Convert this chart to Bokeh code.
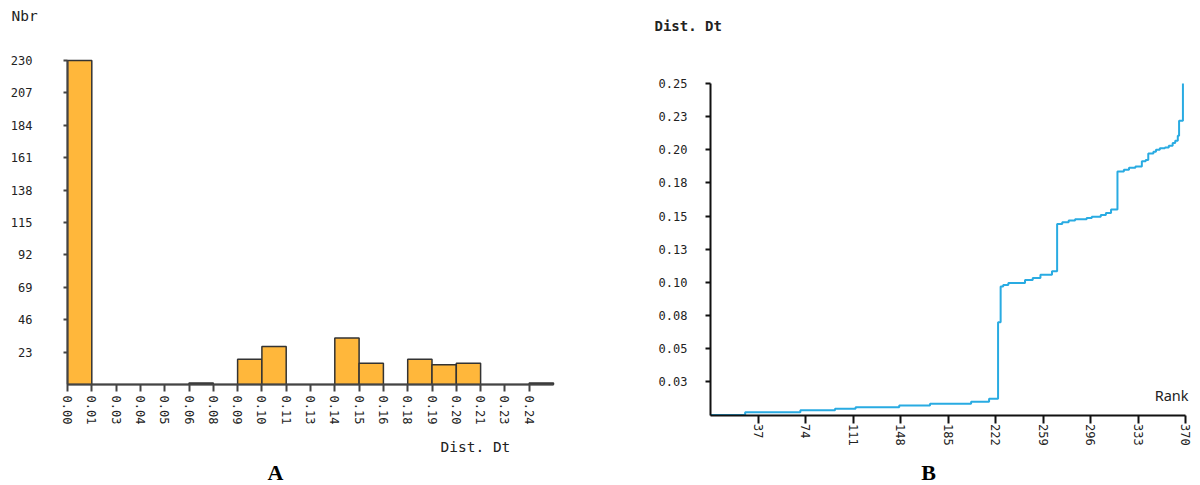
import math
from bokeh.plotting import figure
from bokeh.models import FixedTicker, Label, Range1d
from bokeh.layouts import row
from bokeh.embed import file_html
from bokeh.resources import INLINE

# ---------------- Data: chart A (histogram of Dist. Dt) ----------------
A_BIN_EDGES = [0.0, 0.0125, 0.025, 0.0375, 0.05, 0.0625, 0.075, 0.0875, 0.1,
               0.1125, 0.125, 0.1375, 0.15, 0.1625, 0.175, 0.1875, 0.2,
               0.2125, 0.225, 0.2375, 0.25]
A_COUNTS = [230, 0, 0, 0, 0, 1, 0, 18, 27, 0, 0, 33, 15, 0, 18, 14, 15, 0, 0, 1]
A_X_TICK_LABELS = ["0.00", "0.01", "0.03", "0.04", "0.05", "0.06", "0.08",
                   "0.09", "0.10", "0.11", "0.13", "0.14", "0.15", "0.16",
                   "0.18", "0.19", "0.20", "0.21", "0.23", "0.24"]
A_Y_TICKS = [23, 46, 69, 92, 115, 138, 161, 184, 207, 230]
A_Y_MAX = 230

# ---------------- Data: chart B (sorted Dist. Dt vs rank) ----------------
B_RANK = [0, 27, 70, 97, 113, 147, 171, 203, 217, 224, 226, 228, 232, 245,
          251, 257, 266, 270, 274, 279, 284, 293, 297, 304, 308, 312, 317,
          322, 326, 331, 336, 339, 341, 345, 347, 350, 354, 357, 360, 362,
          364, 365, 368]
B_DIST = [0.0, 0.0021, 0.0036, 0.0047, 0.0059, 0.0072, 0.0084, 0.0099,
          0.0122, 0.070, 0.097, 0.0981, 0.0996, 0.1019, 0.1034, 0.1057,
          0.1084, 0.1441, 0.1453, 0.1466, 0.1476, 0.1486, 0.1496, 0.1509,
          0.1524, 0.1549, 0.1837, 0.1850, 0.1865, 0.1875, 0.1913, 0.1923,
          0.1973, 0.1986, 0.2001, 0.2011, 0.2018, 0.2031, 0.2051, 0.2069,
          0.2106, 0.2219, 0.2500]
B_X_TICKS = [37, 74, 111, 148, 185, 222, 259, 296, 333, 370]
B_X_MAX = 370
B_Y_TICKS = [0.025, 0.05, 0.075, 0.1, 0.125, 0.15, 0.175, 0.2, 0.225, 0.25]
B_Y_TICK_LABELS = ["0.03", "0.05", "0.08", "0.10", "0.13", "0.15", "0.18",
                   "0.20", "0.23", "0.25"]
B_Y_MAX = 0.25

# ---------------- Layout (pixels) ----------------
H = 485
W_A = 600
W_B = 600
MONO = "DejaVu Sans Mono"
TXT = "#222222"


class PixMap:
    """Maps canvas pixels <-> data for a figure whose frame fills the canvas."""

    def __init__(self, w, h, vx0, px0, vx1, px1, vy0, py0, vy1, py1):
        sx = (px1 - px0) / (vx1 - vx0)
        self.x_start = vx0 - px0 / sx
        self.x_end = self.x_start + w / sx
        sy = (py0 - py1) / (vy1 - vy0)
        self.y_end = vy1 + py1 / sy
        self.y_start = self.y_end - h / sy
        self.sx, self.sy = sx, sy

    def x(self, px):
        return self.x_start + px / self.sx

    def y(self, py):
        return self.y_end - py / self.sy


def style_axes(p):
    p.xgrid.grid_line_color = None
    p.ygrid.grid_line_color = None
    p.outline_line_color = None
    for ax in (p.xaxis[0], p.yaxis[0]):
        ax.minor_tick_line_color = None
        ax.major_tick_in = 0
        ax.axis_line_width = 2
        ax.major_tick_line_width = 2
        ax.major_label_text_font = MONO
        ax.major_label_text_font_size = "12px"
        ax.major_label_text_color = TXT


def new_fig(w, m):
    return figure(width=w, height=H,
                  x_range=Range1d(m.x_start, m.x_end),
                  y_range=Range1d(m.y_start, m.y_end),
                  output_backend="svg", toolbar_location=None,
                  min_border_left=0, min_border_right=0,
                  min_border_top=0, min_border_bottom=0)


# ---------------- Chart A ----------------
mA = PixMap(W_A, H, A_BIN_EDGES[0], 67, A_BIN_EDGES[-1], 553, 0, 384, A_Y_MAX, 60)
pA = new_fig(W_A, mA)
style_axes(pA)
pA.quad(left=A_BIN_EDGES[:-1], right=A_BIN_EDGES[1:], bottom=0, top=A_COUNTS,
        fill_color="#FFB73B", line_color="#333333", line_width=1.5)
xa, ya = pA.xaxis[0], pA.yaxis[0]
xa.fixed_location = 0
xa.bounds = (A_BIN_EDGES[0], A_BIN_EDGES[-1])
xa.ticker = FixedTicker(ticks=A_BIN_EDGES[:-1])
xa.major_label_overrides = dict(zip(A_BIN_EDGES[:-1], A_X_TICK_LABELS))
xa.major_label_orientation = -math.pi / 2
xa.major_tick_out = 7
xa.major_label_standoff = 4
xa.axis_line_color = "#444444"
xa.major_tick_line_color = "#444444"
ya.fixed_location = 0
ya.bounds = (0, A_Y_MAX)
ya.ticker = FixedTicker(ticks=A_Y_TICKS)
ya.major_tick_out = 4
ya.major_label_standoff = 31
ya.axis_line_color = "#444444"
ya.major_tick_line_color = "#444444"

pA.add_layout(Label(x=mA.x(11), y=mA.y(15), text="Nbr", text_font=MONO,
                    text_font_size="14.5px", text_color=TXT,
                    text_baseline="middle", text_align="left"))
pA.add_layout(Label(x=mA.x(440), y=mA.y(446), text="Dist. Dt", text_font=MONO,
                    text_font_size="14.5px", text_color=TXT,
                    text_baseline="middle", text_align="left"))
pA.add_layout(Label(x=mA.x(275), y=mA.y(472), text="A",
                    text_font="Liberation Serif", text_font_style="bold",
                    text_font_size="22px", text_color="#000000",
                    text_align="center", text_baseline="middle"))

# ---------------- Chart B ----------------
OX = W_A  # canvas offset of chart B
mB = PixMap(W_B, H, 0, 710 - OX, B_X_MAX, 1185 - OX, 0, 414.5, B_Y_MAX, 83)
pB = new_fig(W_B, mB)
style_axes(pB)
pB.step(B_RANK, B_DIST, mode="after", line_color="#29ABE2", line_width=2)
xb, yb = pB.xaxis[0], pB.yaxis[0]
xb.fixed_location = 0
xb.bounds = (0, B_X_MAX)
xb.ticker = FixedTicker(ticks=B_X_TICKS)
xb.major_label_orientation = -math.pi / 2
xb.major_tick_out = 8
xb.major_label_standoff = 1
xb.axis_line_color = "#111111"
xb.major_tick_line_color = "#111111"
yb.fixed_location = 0
yb.bounds = (0, B_Y_MAX)
yb.ticker = FixedTicker(ticks=B_Y_TICKS)
yb.major_label_overrides = dict(zip(B_Y_TICKS, B_Y_TICK_LABELS))
yb.major_tick_out = 5
yb.major_label_standoff = 18
yb.axis_line_color = "#111111"
yb.major_tick_line_color = "#111111"

pB.add_layout(Label(x=mB.x(654 - OX), y=mB.y(25), text="Dist. Dt",
                    text_font=MONO, text_font_style="bold",
                    text_font_size="14px", text_color=TXT,
                    text_baseline="middle", text_align="left"))
pB.add_layout(Label(x=mB.x(1188 - OX), y=mB.y(394), text="Rank",
                    text_font="Noto Sans", text_font_size="14.5px",
                    text_color=TXT, text_align="right",
                    text_baseline="middle"))
pB.add_layout(Label(x=mB.x(928 - OX), y=mB.y(472), text="B",
                    text_font="Liberation Serif", text_font_style="bold",
                    text_font_size="22px", text_color="#000000",
                    text_align="center", text_baseline="middle"))

layout = row(pA, pB)
open("out.html", "w").write(file_html(layout, INLINE))
